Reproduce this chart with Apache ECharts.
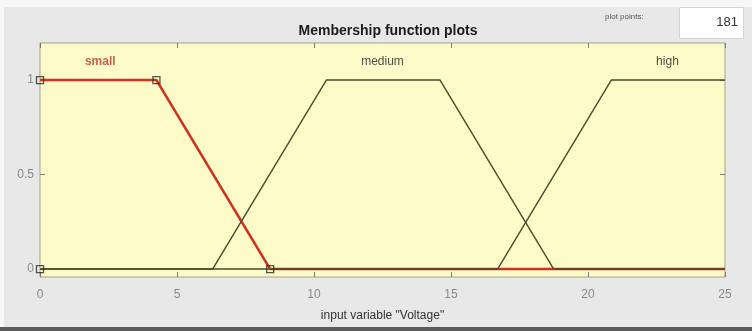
<!DOCTYPE html>
<html>
<head>
<meta charset="utf-8">
<script src="https://cdn.jsdelivr.net/npm/echarts@6/dist/echarts.min.js"></script>
<style>
  html, body { margin: 0; padding: 0; background: #ffffff; }
  #chart { width: 752px; height: 331px; }
</style>
</head>
<body>
<div id="chart"></div>
<script>
// Membership functions of the input variable "Voltage" (range 0..25)
const xRange = [0, 25];
const xTicks = [0, 5, 10, 15, 20, 25];
const yTicks = [0, 0.5, 1];

// Trapezoid vertices [x, membership]
const smallLine = [[0, 1], [4.25, 1], [8.4, 0], [25, 0]];
const mediumLine = [[0, 0], [6.3, 0], [10.45, 1], [14.6, 1], [18.75, 0], [25, 0]];
const highLine = [[0, 0], [16.7, 0], [20.85, 1], [25, 1]];

// Editable vertex handles of the selected function ("small")
const smallHandles = [[0, 0], [0, 1], [4.25, 1], [8.4, 0]];

// Function names, placed above each plateau
const mfNames = ['small', 'medium', 'high'];
const mfLabelPos = [[2.2, 1.095], [12.5, 1.095], [22.9, 1.095]];
const plotPoints = '181';

const chart = echarts.init(document.getElementById('chart'), null, { renderer: 'canvas' });

const tickColor = '#7a7a66';
const labelColor = '#8a8a8a';
const font = '"Liberation Sans", Arial, Helvetica, sans-serif';

const option = {
  backgroundColor: '#e8e8e8',
  animation: false,
  textStyle: { fontFamily: font },
  title: {
    text: 'Membership function plots',
    left: 383,
    top: 19,
    textAlign: 'center',
    textStyle: { fontSize: 14, fontWeight: 'bold', color: '#1a1a1a', fontFamily: font }
  },
  grid: {
    left: 40, right: 27, top: 43, bottom: 54,
    show: true,
    backgroundColor: '#fdfbc8',
    borderColor: '#a3a38c',
    borderWidth: 1
  },
  xAxis: [
    {
      type: 'value', min: xRange[0], max: xRange[1], interval: 5,
      position: 'bottom',
      name: 'input variable "Voltage"',
      nameLocation: 'middle', nameGap: 33,
      nameTextStyle: { fontSize: 12, color: '#333333', fontFamily: font },
      axisLine: { show: false, onZero: false },
      axisTick: { show: true, inside: true, length: 5, lineStyle: { color: tickColor } },
      axisLabel: { fontSize: 12, color: labelColor, margin: 12,
        customValues: xTicks },
      splitLine: { show: false }
    },
    {
      type: 'value', min: xRange[0], max: xRange[1], interval: 5,
      position: 'top',
      axisLine: { show: false, onZero: false },
      axisTick: { show: true, inside: true, length: 5, lineStyle: { color: tickColor } },
      axisLabel: { show: false },
      splitLine: { show: false }
    }
  ],
  yAxis: [
    {
      type: 'value', min: -0.042, max: 1.196,
      position: 'left',
      axisLine: { show: false, onZero: false },
      axisTick: { show: true, inside: true, length: 5, customValues: yTicks,
        lineStyle: { color: tickColor } },
      axisLabel: { fontSize: 12, color: labelColor, margin: 6, customValues: yTicks },
      splitLine: { show: false }
    },
    {
      type: 'value', min: -0.042, max: 1.196,
      position: 'right',
      axisLine: { show: false, onZero: false },
      axisTick: { show: true, inside: true, length: 5, customValues: yTicks,
        lineStyle: { color: tickColor } },
      axisLabel: { show: false },
      splitLine: { show: false }
    }
  ],
  series: [
    {
      name: 'small', type: 'line', data: smallLine,
      symbol: 'none', z: 2,
      lineStyle: { color: '#d0321e', width: 2.6 }
    },
    {
      name: 'medium', type: 'line', data: mediumLine,
      symbol: 'none', z: 3,
      lineStyle: { color: '#4a4a2c', width: 1.4 }
    },
    {
      name: 'high', type: 'line', data: highLine,
      symbol: 'none', z: 3,
      lineStyle: { color: '#4a4a2c', width: 1.4 }
    },
    {
      name: 'handles', type: 'scatter', data: smallHandles,
      symbol: 'rect', symbolSize: 7, z: 4,
      itemStyle: { color: 'rgba(0,0,0,0)', borderColor: '#2a2a22', borderWidth: 1.3 }
    },
    {
      name: 'names', type: 'scatter', symbolSize: 0, z: 5, silent: true,
      data: mfNames.map((n, i) => ({ name: n, value: mfLabelPos[i] })),
      label: {
        show: true, position: 'inside',
        formatter: p => p.name,
        fontFamily: font, fontSize: 12
      }
    }
  ],
  graphic: [
    { type: 'rect', left: 0, top: 0, shape: { width: 752, height: 7 }, style: { fill: '#f7f7f7' }, z: -1 },
    { type: 'rect', left: 0, top: 0, shape: { width: 4, height: 331 }, style: { fill: '#f7f7f7' }, z: -1 },
    { type: 'rect', left: 0, top: 327, shape: { width: 752, height: 4 }, style: { fill: '#5a5a5a' }, z: -1 },
    {
      type: 'text', left: 605, top: 13,
      style: { text: 'plot points:', fill: '#555555', font: '8px ' + font }
    },
    {
      type: 'rect', left: 679, top: 7,
      shape: { width: 64, height: 31 },
      style: { fill: '#ffffff', stroke: '#d4d4d4', lineWidth: 1 }
    },
    {
      type: 'text', right: 14, top: 16,
      style: { text: plotPoints, fill: '#333333', font: '13px ' + font, textAlign: 'right' }
    }
  ]
};

// Selected function name in red bold, others plain dark
option.series[4].data.forEach((d, i) => {
  d.label = i === 0
    ? { color: '#c8372a', fontWeight: 'bold' }
    : { color: '#222222', fontWeight: 'normal' };
});

chart.setOption(option);
</script>
</body>
</html>
